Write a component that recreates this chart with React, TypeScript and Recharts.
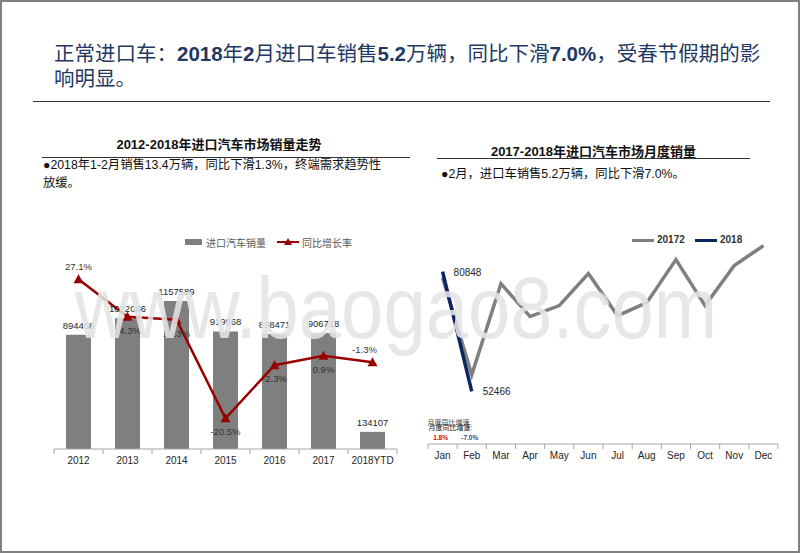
import React from "react";
import { ComposedChart, LineChart, Bar, Line, XAxis, YAxis, LabelList } from "recharts";

// left chart: yearly imports
const years = ["2012", "2013", "2014", "2015", "2016", "2017", "2018YTD"];
const salesVolume = [894468, 1022086, 1157589, 919968, 898471, 906718, 134107];
const yoyGrowth = [27.1, 14.3, 13.3, -20.5, -2.3, 0.9, -1.3];

// right chart: monthly imports
const months = ["Jan", "Feb", "Mar", "Apr", "May", "Jun", "Jul", "Aug", "Sep", "Oct", "Nov", "Dec"];
const sales2017 = [79418, 56415, 78000, 70200, 72800, 80400, 70400, 73500, 83700, 72800, 82300, 87000];
const sales2018 = [80848, 52466];
const monthYoy = ["1.8%", "-7.0%"];

const FONT = '"Liberation Sans", Arial, "Noto Sans CJK SC", sans-serif';
const GRAY = "#7f7f7f";
const RED = "#990000";
const NAVY = "#0b2560";

const yearData = years.map((y, i) => ({ year: y, sales: salesVolume[i], rate: yoyGrowth[i] }));
const monthData = months.map((m, i) => ({
  month: m,
  y2017: sales2017[i],
  y2018: sales2018[i] ?? null,
}));

const LEFT_STEP = 343 / years.length;
const RIGHT_STEP = 350 / months.length;

const LeftTick = (props: any) => {
  const { x, y, payload } = props;
  const half = LEFT_STEP / 2;
  const last = payload.value === years[years.length - 1];
  return (
    <g>
      <line x1={x - half} y1={y} x2={x - half} y2={y + 5} stroke="#a6a6a6" />
      {last && <line x1={x + half} y1={y} x2={x + half} y2={y + 5} stroke="#a6a6a6" />}
      <text x={x} y={y + 15} textAnchor="middle" fontSize={10} fill="#262626" fontFamily={FONT}>
        {payload.value}
      </text>
    </g>
  );
};

const RightTick = (props: any) => {
  const { x, y, payload, index } = props;
  const half = RIGHT_STEP / 2;
  const last = payload.value === months[months.length - 1];
  const yoy = monthYoy[index];
  return (
    <g>
      <line x1={x - half} y1={y} x2={x - half} y2={y + 5} stroke="#a6a6a6" />
      {last && <line x1={x + half} y1={y} x2={x + half} y2={y + 5} stroke="#a6a6a6" />}
      {index === 0 && (
        <>
          <text x={x - 15} y={y - 19} fontSize={7} fill="#444" fontFamily={FONT}>月度同比增速:</text>
          <text x={x - 14} y={y - 14} fontSize={7} fill="#111" fontFamily={FONT}>月度同比增速:</text>
        </>
      )}
      {yoy && (
        <text
          x={x - 2}
          y={y - 4}
          textAnchor="middle"
          fontSize={6.5}
          fontWeight="bold"
          fill={index === 0 ? "#e00000" : "#1f4e79"}
          fontFamily={FONT}
        >
          {yoy}
        </text>
      )}
      <text x={x} y={y + 15} textAnchor="middle" fontSize={10} fill="#262626" fontFamily={FONT}>
        {payload.value}
      </text>
    </g>
  );
};

const Triangle = (props: any) => {
  const { cx, cy, index } = props;
  if (cx == null || cy == null) return <g key={index} />;
  return <path key={index} d={`M${cx},${cy - 5} L${cx + 5},${cy + 4} L${cx - 5},${cy + 4} Z`} fill={RED} />;
};

const rateLabel = (props: any) => {
  const { x, y, value, index } = props;
  const above = index === 0 || index === yoyGrowth.length - 1;
  return (
    <text
      x={index === yoyGrowth.length - 1 ? x - 8 : x}
      y={above ? y - 9 : y + 17}
      textAnchor="middle"
      fontSize={9.5}
      fill="#333"
      fontFamily={FONT}
    >
      {`${value}%`}
    </text>
  );
};

const monthLabel = (props: any) => {
  const { x, y, value } = props;
  if (value == null) return null;
  return (
    <text x={x + 11} y={y + 4} fontSize={10} fill="#262626" fontFamily={FONT}>
      {value}
    </text>
  );
};

export default function App() {
  return (
    <div
      style={{
        position: "absolute",
        left: 0,
        top: 0,
        width: 800,
        height: 553,
        boxSizing: "border-box",
        border: "2px solid #808080",
        background: "#fff",
        fontFamily: FONT,
        overflow: "hidden",
      }}
    >
      {/* title */}
      <div
        style={{
          position: "absolute",
          left: 52,
          top: 39,
          fontSize: 20.5,
          lineHeight: "25px",
          color: "#1f3864",
          whiteSpace: "nowrap",
        }}
      >
        正常进口车：<b>2018</b>年<b>2</b>月进口车销售<b>5.2</b>万辆，同比下滑<b>7.0%</b>，受春节假期的影
        <br />
        响明显。
      </div>
      <div style={{ position: "absolute", left: 31, top: 99, width: 737, height: 1, background: "#333" }} />

      {/* left chart header */}
      <div
        style={{
          position: "absolute",
          left: 40,
          width: 354,
          top: 132,
          textAlign: "center",
          fontSize: 13,
          fontWeight: "bold",
          color: "#111",
        }}
      >
        2012-2018年进口汽车市场销量走势
      </div>
      <div style={{ position: "absolute", left: 40, top: 155, width: 368, height: 1, background: "#333" }} />
      <div
        style={{ position: "absolute", left: 41, top: 154, fontSize: 12.3, lineHeight: "18px", color: "#111", whiteSpace: "nowrap" }}
      >
        ●2018年1-2月销售13.4万辆，同比下滑1.3%，终端需求趋势性
        <br />
        放缓。
      </div>

      {/* left legend */}
      <div style={{ position: "absolute", left: 183, top: 237, width: 17, height: 6, background: GRAY }} />
      <div style={{ position: "absolute", left: 204, top: 233, fontSize: 10, color: "#595959" }}>进口汽车销量</div>
      <svg style={{ position: "absolute", left: 274, top: 234 }} width={24} height={12}>
        <line x1={1} y1={6} x2={23} y2={6} stroke={RED} strokeWidth={2} />
        <path d="M12,2 L16,9 L8,9 Z" fill={RED} />
      </svg>
      <div style={{ position: "absolute", left: 300, top: 233, fontSize: 10, color: "#595959" }}>同比增长率</div>

      <div style={{ position: "absolute", left: 40, top: 230 }}>
        <ComposedChart width={370} height={245} data={yearData} margin={{ top: 38, right: 15, left: 12, bottom: 0 }}>
          <XAxis
            dataKey="year"
            height={28}
            tickSize={0}
            tickMargin={0}
            tickLine={false}
            axisLine={{ stroke: "#a6a6a6" }}
            tick={<LeftTick />}
            interval={0}
          />
          <YAxis yAxisId="vol" hide domain={[0, 1400000]} />
          <YAxis yAxisId="rate" hide orientation="right" domain={[-31, 30.3]} />
          <Bar yAxisId="vol" dataKey="sales" fill={GRAY} barSize={25} isAnimationActive={false}>
            <LabelList dataKey="sales" position="top" offset={6} fontSize={9.5} fill="#262626" fontFamily={FONT} />
          </Bar>
          <Line
            yAxisId="rate"
            dataKey="rate"
            type="linear"
            stroke={RED}
            strokeWidth={2.5}
            dot={<Triangle />}
            activeDot={false}
            isAnimationActive={false}
          >
            <LabelList dataKey="rate" content={rateLabel} />
          </Line>
        </ComposedChart>
      </div>

      {/* right chart header */}
      <div
        style={{
          position: "absolute",
          left: 435,
          width: 313,
          top: 139,
          textAlign: "center",
          fontSize: 13,
          fontWeight: "bold",
          color: "#111",
        }}
      >
        2017-2018年进口汽车市场月度销量
      </div>
      <div style={{ position: "absolute", left: 435, top: 156, width: 313, height: 1, background: "#333" }} />
      <div style={{ position: "absolute", left: 439, top: 163, fontSize: 12.3, lineHeight: "18px", color: "#111", whiteSpace: "nowrap" }}>
        ●2月，进口车销售5.2万辆，同比下滑7.0%。
      </div>

      {/* right legend */}
      <div style={{ position: "absolute", left: 630, top: 237, width: 22, height: 3, background: GRAY }} />
      <div style={{ position: "absolute", left: 655, top: 232, fontSize: 10, fontWeight: "bold", color: "#333" }}>20172</div>
      <div style={{ position: "absolute", left: 693, top: 237, width: 22, height: 3, background: NAVY }} />
      <div style={{ position: "absolute", left: 718, top: 232, fontSize: 10, fontWeight: "bold", color: "#333" }}>2018</div>

      <div style={{ position: "absolute", left: 420, top: 225 }}>
        <LineChart width={370} height={245} data={monthData} margin={{ top: 6, right: 14, left: 6, bottom: 0 }}>
          <XAxis
            dataKey="month"
            height={28}
            tickSize={0}
            tickMargin={0}
            tickLine={false}
            axisLine={{ stroke: "#a6a6a6" }}
            tick={<RightTick />}
            interval={0}
            padding={{ left: RIGHT_STEP / 2, right: RIGHT_STEP / 2 }}
          />
          <YAxis hide domain={[40000, 90000]} allowDataOverflow />
          <Line
            dataKey="y2017"
            type="linear"
            stroke={GRAY}
            strokeWidth={3.5}
            dot={false}
            activeDot={false}
            isAnimationActive={false}
          />
          <Line
            dataKey="y2018"
            type="linear"
            stroke={NAVY}
            strokeWidth={3.5}
            dot={false}
            activeDot={false}
            connectNulls={false}
            isAnimationActive={false}
          >
            <LabelList dataKey="y2018" content={monthLabel} />
          </Line>
        </LineChart>
      </div>

      {/* watermark */}
      <div
        style={{
          position: "absolute",
          left: 73,
          top: 262,
          fontSize: 76,
          fontFamily: '"Liberation Sans", Arial, sans-serif',
          color: "rgba(228,228,228,0.88)",
          whiteSpace: "nowrap",
          transform: "scaleY(1.15)",
          transformOrigin: "left top",
          pointerEvents: "none",
          lineHeight: "76px",
        }}
      >
        www.baogao8.com
      </div>
    </div>
  );
}
